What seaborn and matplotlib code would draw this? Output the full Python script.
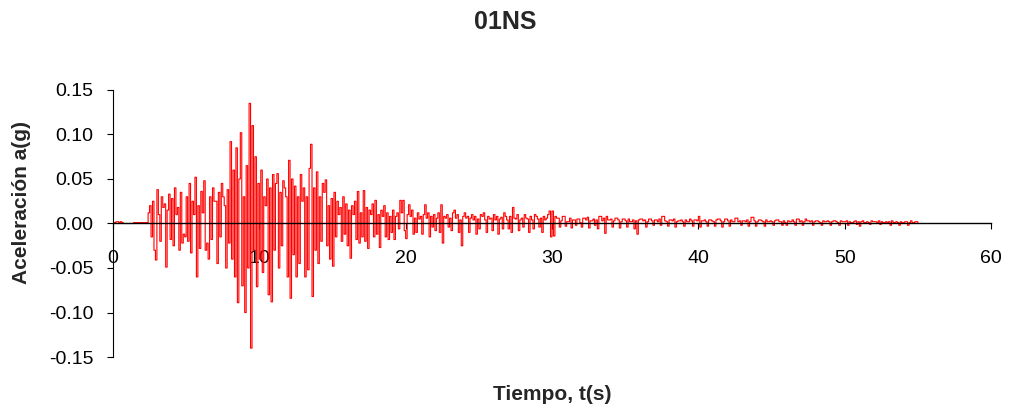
import numpy as np
import pandas as pd
import matplotlib
matplotlib.use("Agg")
import matplotlib.pyplot as plt
import seaborn as sns

dt = 0.1
accel_g = [
    # 0-1 s
    0.000, 0.001, 0.002, 0.002, 0.001, 0.002, 0.001, 0.000, 0.000, 0.000,
    # 1-2
    0.000, 0.000, 0.000, 0.000, 0.001, 0.001, 0.001, 0.001, 0.001, 0.001,
    # 2-3
    0.001, 0.001, 0.001, 0.001, 0.012, 0.020, -0.015, 0.025, -0.030, -0.041,
    # 3-4
    0.038, 0.010, -0.020, 0.030, 0.018, 0.022, -0.049, 0.015, 0.033, -0.018,
    # 4-5
    0.028, -0.025, 0.040, 0.010, 0.018, -0.030, 0.035, -0.022, -0.012, -0.015,
    # 5-6
    0.030, -0.020, 0.045, -0.033, 0.025, 0.010, 0.052, -0.060, 0.020, -0.028,
    # 6-7
    0.036, 0.012, 0.048, -0.030, -0.022, -0.040, 0.030, -0.018, 0.040, 0.025,
    # 7-8
    0.025, -0.045, 0.035, -0.015, 0.045, 0.030, 0.020, -0.050, 0.038, -0.022,
    # 8-9
    0.092, -0.040, 0.060, -0.060, 0.085, -0.089, 0.050, 0.102, -0.070, 0.030,
    # 9-10
    -0.100, 0.065, -0.050, 0.135, -0.140, 0.110, -0.030, 0.075, -0.071, 0.045,
    # 10-11
    -0.040, 0.060, -0.055, 0.030, 0.020, 0.050, -0.080, 0.040, -0.088, 0.055,
    # 11-12
    -0.030, 0.045, 0.056, -0.050, 0.035, -0.025, 0.048, 0.040, 0.030, -0.060,
    # 12-13
    0.071, -0.084, 0.050, -0.035, 0.042, -0.060, 0.030, -0.045, 0.055, 0.025,
    # 13-14
    0.040, -0.060, 0.030, -0.052, 0.062, 0.089, -0.082, 0.040, -0.030, 0.058,
    # 14-15
    -0.045, 0.030, -0.020, 0.045, 0.035, 0.049, -0.025, 0.020, -0.040, 0.028,
    # 15-16
    -0.048, 0.035, -0.015, 0.025, 0.010, 0.018, -0.020, 0.030, -0.012, 0.022,
    # 16-17
    -0.025, 0.015, -0.039, 0.020, 0.010, 0.025, -0.018, 0.036, -0.022, 0.012,
    # 17-18
    -0.015, 0.037, -0.020, 0.018, -0.028, 0.015, 0.010, 0.022, -0.015, 0.026,
    # 18-19
    -0.012, 0.010, -0.027, 0.015, 0.008, 0.020, -0.015, 0.012, -0.018, 0.008,
    # 19-20
    -0.010, 0.015, -0.018, 0.008, 0.012, -0.006, 0.026, 0.012, 0.026, -0.008,
    # 20-21
    -0.017, 0.010, 0.021, 0.008, 0.015, -0.012, 0.006, -0.010, 0.012, 0.005,
    # 21-22
    0.008, -0.012, 0.010, 0.021, 0.006, 0.012, -0.015, 0.008, -0.004, 0.010,
    # 22-23
    -0.008, 0.006, 0.012, -0.010, 0.021, -0.022, 0.008, 0.006, 0.010, -0.004,
    # 23-24
    0.006, -0.008, 0.012, 0.015, 0.006, 0.010, -0.010, 0.004, -0.025, 0.008,
    # 24-25
    0.012, 0.006, 0.008, -0.010, 0.006, 0.010, 0.004, 0.008, -0.012, 0.005,
    # 25-26
    -0.006, 0.010, 0.008, 0.012, 0.004, -0.010, 0.008, 0.005, 0.006, -0.008,
    # 26-27
    0.010, 0.004, 0.008, -0.012, 0.005, 0.007, -0.006, 0.012, 0.008, 0.004,
    # 27-28
    -0.006, 0.008, -0.010, 0.018, 0.006, 0.005, 0.010, -0.008, 0.004, 0.006,
    # 28-29
    -0.004, 0.010, 0.006, 0.005, -0.010, 0.008, 0.004, -0.006, 0.010, 0.008,
    # 29-30
    0.005, -0.004, 0.006, -0.010, 0.008, 0.004, 0.006, 0.010, 0.014, -0.015,
    # 30-31
    0.014, -0.014, 0.008, 0.006, 0.006, -0.004, 0.003, 0.008, 0.008, -0.003,
    # 31-32
    0.002, 0.002, 0.006, -0.005, 0.004, 0.004, -0.002, 0.005, 0.005, 0.001,
    # 32-33
    -0.004, 0.006, 0.006, 0.004, 0.007, -0.005, 0.003, 0.003, 0.005, -0.002,
    # 33-34
    0.004, -0.006, 0.008, 0.008, 0.003, 0.006, -0.011, 0.008, 0.004, 0.004,
    # 34-35
    0.005, -0.004, 0.003, 0.006, 0.006, 0.004, -0.005, 0.002, 0.005, 0.005,
    # 35-36
    0.003, -0.004, 0.005, 0.002, 0.002, 0.004, -0.006, 0.003, -0.012, 0.004,
    # 36-37
    0.005, 0.005, 0.003, 0.004, -0.004, 0.002, 0.005, 0.005, 0.003, -0.002,
    # 37-38
    0.004, 0.004, 0.002, 0.005, -0.002, 0.008, 0.008, 0.003, 0.002, -0.003,
    # 38-39
    0.004, 0.004, 0.003, 0.005, -0.004, 0.002, 0.003, 0.003, 0.004, 0.002,
    # 39-40
    -0.003, 0.004, 0.002, 0.002, 0.005, 0.003, -0.003, 0.004, 0.004, 0.003,
    # 40-41
    0.008, -0.004, 0.003, 0.003, 0.004, 0.002, -0.003, 0.004, 0.004, 0.003,
    # 41-42
    0.002, -0.003, 0.004, 0.005, 0.005, 0.003, -0.004, 0.002, 0.005, 0.005,
    # 42-43
    0.003, -0.003, 0.004, 0.002, 0.002, 0.006, 0.006, 0.002, 0.003, -0.002,
    # 43-44
    0.003, 0.003, 0.002, 0.004, -0.003, 0.002, 0.007, 0.007, 0.003, -0.003,
    # 44-45
    0.002, 0.004, 0.004, 0.003, 0.002, -0.003, 0.004, 0.002, 0.002, 0.003,
    # 45-46
    0.002, -0.002, 0.003, 0.004, 0.004, 0.002, 0.002, -0.002, 0.003, 0.001,
    # 46-47
    -0.002, 0.003, 0.002, 0.002, 0.004, 0.002, -0.002, 0.005, 0.005, 0.002,
    # 47-48
    0.003, -0.002, 0.002, 0.005, 0.003, 0.003, 0.002, 0.003, -0.002, 0.002,
    # 48-49
    0.003, 0.003, 0.002, 0.001, -0.002, 0.003, 0.002, 0.002, 0.003, 0.002,
    # 49-50
    -0.002, 0.002, 0.003, 0.003, 0.002, 0.001, -0.002, 0.003, 0.002, 0.002,
    # 50-51
    0.002, 0.003, -0.002, 0.002, 0.001, 0.001, 0.002, 0.003, -0.001, 0.002,
    # 51-52
    -0.003, 0.002, 0.003, 0.001, 0.001, 0.002, 0.001, -0.001, 0.003, 0.002,
    # 52-53
    0.002, 0.002, 0.001, 0.003, -0.001, 0.002, 0.001, 0.001, 0.002, 0.001,
    # 53-54
    0.002, -0.002, 0.003, 0.001, 0.001, 0.002, 0.001, -0.002, 0.002, 0.001,
    # 54-55
    0.001, 0.002, 0.002, -0.002, 0.001, 0.003, 0.001, 0.001, 0.002, 0.002,
    # 55
    0.000,
]
time_s = [round(i * dt, 2) for i in range(len(accel_g))]

x_ticks = [0, 10, 20, 30, 40, 50, 60]
y_ticks = [-0.15, -0.10, -0.05, 0.00, 0.05, 0.10, 0.15]
y_ticklabels = ["-0.15", "-0.10", "-0.05", "0.00", "0.05", "0.10", "0.15"]

title = "01NS"
xlabel = "Tiempo, t(s)"
ylabel = "Aceleración a(g)"

# ---- plot ----
sns.set_theme(style="white")
plt.rcParams["font.family"] = ["Liberation Sans", "DejaVu Sans"]

df = pd.DataFrame({"t": time_s, "a": accel_g})

fig = plt.figure(figsize=(10.11, 4.12), dpi=100)
ax = fig.add_axes([113 / 1011, 1 - 357 / 412, (991 - 113) / 1011, (357 - 90) / 412])

sns.lineplot(data=df, x="t", y="a", ax=ax, color="#FF0000", linewidth=0.8,
             drawstyle="steps-post", estimator=None, sort=False)

ax.set_xlim(0, 60)
ax.set_ylim(-0.15, 0.15)
ax.set_xticks(x_ticks)
ax.set_xticklabels([str(v) for v in x_ticks])
ax.set_yticks(y_ticks)
ax.set_yticklabels(y_ticklabels)

for s in ["top", "right"]:
    ax.spines[s].set_visible(False)
ax.spines["bottom"].set_position(("data", 0))
ax.spines["bottom"].set_color("black")
ax.spines["bottom"].set_linewidth(1.0)
ax.spines["left"].set_color("black")
ax.spines["left"].set_linewidth(0.8)

ax.tick_params(axis="x", direction="out", length=4, width=0.8, color="black",
               pad=15, labelsize=14, labelcolor="black", bottom=True)
ax.tick_params(axis="y", direction="out", length=4, width=0.8, color="black",
               pad=10, labelsize=14, labelcolor="black", left=True)
ax.set_xlabel("")
ax.set_ylabel("")
ax.grid(False)

fig.text(505 / 1011, 1 - 22 / 412, title, ha="center", va="center",
         fontsize=18, fontweight="bold")
fig.text(552 / 1011, 1 - 394 / 412, xlabel, ha="center", va="center",
         fontsize=15, fontweight="bold")
fig.text(22 / 1011, 1 - 203 / 412, ylabel, ha="center", va="center",
         rotation=90, fontsize=15, fontweight="bold")

fig.savefig("out.png", dpi=100, facecolor="white")
